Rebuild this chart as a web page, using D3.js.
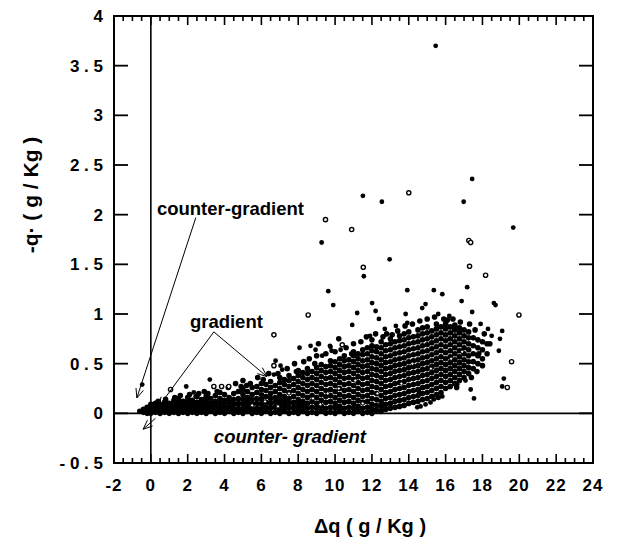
<!DOCTYPE html>
<html><head><meta charset="utf-8">
<script src="https://cdn.jsdelivr.net/npm/d3@7"></script>
<style>
body{margin:0;background:#fff}
svg{display:block}
text{font-family:"Liberation Sans",Arial,Helvetica,sans-serif;font-weight:bold;fill:#000}
</style>
</head><body>
<svg id="c" width="617" height="547"></svg>
<script>
// ---- data ----
const xTicks=[-2,0,2,4,6,8,10,12,14,16,18,20,22,24];
const yTicks=[-0.5,0,0.5,1,1.5,2,2.5,3,3.5,4];
const xTitle="\u0394q ( g / Kg )";
const yTitle="-q\u00b7 ( g / Kg )";

// dense cloud: [x, [y values]]
const cloud=[
[-0.6,[0.02]],[-0.4,[0.01,0.04]],[-0.2,[0.0,0.03,0.06]],
[0.0,[0.0,0.03,0.06,0.09]],[0.25,[0.01,0.04,0.07,0.1]],[0.5,[0.0,0.03,0.06,0.09]],[0.75,[0.01,0.04,0.08,0.11]],
[1.0,[0.0,0.03,0.06,0.1]],[1.25,[0.01,0.05,0.09,0.13]],[1.5,[0.0,0.03,0.07,0.11,0.15]],[1.75,[0.01,0.04,0.08,0.12]],
[2.0,[0.0,0.04,0.08,0.12,0.16]],[2.25,[0.01,0.05,0.09,0.13]],[2.5,[0.0,0.03,0.07,0.11,0.17]],[2.75,[0.01,0.05,0.09,0.14]],
[3.0,[0.0,0.04,0.08,0.12,0.17]],[3.25,[0.02,0.06,0.1,0.15]],[3.5,[0.0,0.04,0.08,0.12,0.18]],[3.75,[0.01,0.05,0.1,0.15,0.21]],
[4.0,[0.0,0.04,0.08,0.13,0.19]],[4.25,[0.02,0.06,0.11,0.16]],[4.5,[0.0,0.04,0.09,0.14,0.2]],[4.75,[0.01,0.05,0.1,0.15,0.22]],
[5.0,[0.0,0.04,0.09,0.14,0.19,0.24]],[5.25,[0.02,0.06,0.11,0.16,0.22]],[5.5,[0.0,0.04,0.09,0.14,0.19,0.26]],[5.75,[0.01,0.05,0.1,0.15,0.21,0.27]],
[6.0,[0.0,0.04,0.09,0.14,0.19,0.24,0.3]],[6.25,[0.02,0.06,0.11,0.17,0.23,0.29]],[6.5,[0.0,0.05,0.1,0.15,0.2,0.26,0.32]],[6.75,[0.01,0.06,0.11,0.16,0.22,0.28]],
[7.0,[0.0,0.04,0.09,0.14,0.19,0.25,0.31,0.36]],[7.25,[0.02,0.07,0.12,0.17,0.23,0.29,0.34]],[7.5,[0.0,0.05,0.1,0.15,0.21,0.27,0.33,0.38]],[7.75,[0.01,0.06,0.11,0.17,0.23,0.29,0.35]],
[8.0,[0.0,0.04,0.09,0.14,0.2,0.26,0.32,0.38,0.43]],[8.25,[0.02,0.07,0.12,0.18,0.24,0.3,0.36,0.41]],[8.5,[0.0,0.05,0.1,0.16,0.22,0.28,0.34,0.4,0.45]],[8.75,[0.01,0.06,0.12,0.18,0.24,0.3,0.36,0.42]],
[9.0,[0.0,0.05,0.1,0.16,0.22,0.28,0.34,0.4,0.46]],[9.25,[0.02,0.07,0.13,0.19,0.25,0.31,0.37,0.43,0.49]],[9.5,[0.0,0.05,0.11,0.17,0.23,0.29,0.35,0.41,0.47]],[9.75,[0.01,0.06,0.12,0.18,0.24,0.3,0.36,0.42,0.48,0.53]],
[10.0,[0.0,0.05,0.1,0.16,0.22,0.28,0.34,0.4,0.46,0.52]],[10.25,[0.02,0.07,0.13,0.19,0.25,0.31,0.37,0.43,0.49,0.55]],[10.5,[0.0,0.05,0.11,0.17,0.23,0.29,0.35,0.41,0.47,0.53,0.58]],[10.75,[0.01,0.06,0.12,0.18,0.24,0.3,0.36,0.42,0.48,0.54]],
[11.0,[0.0,0.05,0.1,0.16,0.22,0.28,0.34,0.4,0.46,0.52,0.58,0.62]],[11.25,[0.02,0.07,0.13,0.19,0.25,0.31,0.37,0.43,0.49,0.55,0.6]],[11.5,[0.0,0.05,0.11,0.17,0.23,0.29,0.35,0.41,0.47,0.53,0.59,0.64]],[11.75,[0.01,0.06,0.12,0.18,0.24,0.3,0.36,0.42,0.48,0.54,0.6,0.66]],
[12.0,[0.0,0.04,0.09,0.15,0.21,0.27,0.33,0.39,0.45,0.51,0.57,0.63,0.68]],[12.25,[0.03,0.08,0.14,0.2,0.26,0.32,0.38,0.44,0.5,0.56,0.62,0.67]],[12.5,[0.02,0.07,0.12,0.18,0.24,0.3,0.36,0.42,0.48,0.54,0.6,0.66,0.72]],[12.75,[0.04,0.09,0.15,0.21,0.27,0.33,0.39,0.45,0.51,0.57,0.63,0.69]],
[13.0,[0.05,0.1,0.16,0.22,0.28,0.34,0.4,0.46,0.52,0.58,0.64,0.7,0.75]],[13.25,[0.06,0.12,0.18,0.24,0.3,0.36,0.42,0.48,0.54,0.6,0.66,0.72]],[13.5,[0.07,0.13,0.19,0.25,0.31,0.37,0.43,0.49,0.55,0.61,0.67,0.73,0.78]],[13.75,[0.08,0.14,0.2,0.26,0.32,0.38,0.44,0.5,0.56,0.62,0.68,0.74,0.8]],
[14.0,[0.1,0.16,0.22,0.28,0.34,0.4,0.46,0.52,0.58,0.64,0.7,0.76,0.82]],[14.25,[0.11,0.17,0.23,0.29,0.35,0.41,0.47,0.53,0.59,0.65,0.71,0.77]],[14.5,[0.12,0.18,0.24,0.3,0.36,0.42,0.48,0.54,0.6,0.66,0.72,0.78,0.84]],[14.75,[0.14,0.2,0.26,0.32,0.38,0.44,0.5,0.56,0.62,0.68,0.74,0.8,0.86]],
[15.0,[0.15,0.21,0.27,0.33,0.39,0.45,0.51,0.57,0.63,0.69,0.75,0.81,0.87]],[15.25,[0.17,0.23,0.29,0.35,0.41,0.47,0.53,0.59,0.65,0.71,0.77,0.83]],[15.5,[0.19,0.25,0.31,0.37,0.43,0.49,0.55,0.61,0.67,0.73,0.79,0.85,0.9]],[15.75,[0.21,0.27,0.33,0.39,0.45,0.51,0.57,0.63,0.69,0.75,0.81,0.87]],
[16.0,[0.25,0.31,0.37,0.43,0.49,0.55,0.61,0.67,0.73,0.79,0.85,0.9]],[16.25,[0.27,0.33,0.39,0.45,0.51,0.57,0.63,0.69,0.75,0.81,0.87]],[16.5,[0.3,0.36,0.42,0.48,0.54,0.6,0.66,0.72,0.78,0.84,0.89]],[16.75,[0.33,0.39,0.45,0.51,0.57,0.63,0.69,0.75,0.81,0.86]],
[17.0,[0.36,0.42,0.48,0.54,0.6,0.66,0.72,0.78,0.84]],[17.25,[0.4,0.46,0.52,0.58,0.64,0.7,0.76,0.82]],[17.5,[0.45,0.52,0.6,0.68,0.76]],[17.75,[0.5,0.58,0.66,0.74]],
[18.0,[0.55,0.64,0.72]],[18.25,[0.6,0.7]]
];

// ragged fringe of points around the cloud edge [x, y]
const fringe=[
[0.4,0.12],[0.8,0.14],[1.3,0.16],[1.6,0.18],[2.1,0.19],[2.9,0.22],[3.6,0.22],[4.2,0.26],[4.6,0.3],[5.0,0.33],
[5.2,0.28],[5.4,0.3],[5.8,0.36],[6.1,0.34],[6.4,0.4],[7.4,0.45],[7.8,0.5],[7.9,0.42],[8.3,0.52],[8.6,0.55],
[9.0,0.58],[9.1,0.7],[9.5,0.6],[10.0,0.62],[10.2,0.75],[10.6,0.66],[11.0,0.7],[11.4,0.72],[11.7,0.77],[12.0,0.74],
[12.2,0.8],[12.8,0.8],[13.4,0.83],[13.8,0.88],[14.2,0.9],[14.6,0.93],[15.0,0.95],[15.4,0.97],[15.9,0.95],[16.4,0.95],
[16.8,0.92],[17.3,0.9],[17.6,0.84],[18.1,0.8],[18.4,0.7],[17.8,0.6],[18.0,0.48],[17.7,0.42],[17.4,0.36],[3.1,0.2],
[2.6,0.2],[4.9,0.27],[6.9,0.4],[8.9,0.5],[10.9,0.6],[12.6,0.77],[13.1,0.79],[16.1,0.94],[16.6,0.26],[15.6,0.16]
];
// scattered filled points [x, y]
const scatterFilled=[
[15.46,3.70],[17.44,2.36],[11.51,2.19],[12.54,2.13],[16.98,2.13],[9.27,1.72],[19.67,1.87],[12.96,1.55],
[11.56,1.38],[9.63,1.23],[13.92,1.24],[15.36,1.24],[17.17,1.27],[9.9,1.09],[12.01,1.11],[12.2,1.03],
[12.38,0.95],[11.2,1.01],[14.91,1.10],[14.73,1.06],[16.87,1.13],[17.44,1.02],[18.62,1.11],[18.71,1.09],
[13.83,1.0],[13.92,0.91],[10.93,0.89],[9.72,0.68],[19.07,0.83],[18.95,0.75],[18.89,0.63],[19.16,0.35],
[19.07,0.27],[17.54,0.15],[17.36,0.24],[17.08,0.33],[16.63,0.29],[15.82,0.17],[15.36,0.14],[15.18,0.11],
[14.91,0.09],[14.64,0.07],[14.46,0.06],[14.82,0.26],[14.55,0.22],[13.28,0.06],[8.07,0.66],[8.67,0.68],
[8.94,0.64],[9.75,0.67],[9.81,0.63],[6.77,0.53],[7.04,0.48],[7.13,0.44],[6.68,0.39],[3.2,0.34],
[1.92,0.27],[2.33,0.21],[2.43,0.17],[9.3,0.58],[10.75,0.54],[-0.47,0.29],[15.6,1.0],[16.2,0.98],
[15.82,1.20],[18.3,0.85],[18.5,0.78],[17.9,0.9],[12.7,0.85],[13.3,0.88],[11.9,0.78],[10.3,0.64]
];
// scattered open points [x, y]
const scatterOpen=[
[14.0,2.22],[9.48,1.95],[10.9,1.85],[17.26,1.74],[17.36,1.72],[11.53,1.47],[17.3,1.48],[18.17,1.39],
[8.54,0.99],[19.98,0.99],[10.39,0.69],[19.58,0.52],[19.35,0.26],[6.68,0.79],[6.68,0.48],
[1.07,0.24],[3.42,0.27],[3.84,0.27],[4.23,0.27]
];
// open circles inside the cloud (white specks)
const innerOpen=[
[5.5,0.08],[6.2,0.12],[7.5,0.2],[8.8,0.15],[9.6,0.2],[10.2,0.25],[11.5,0.1],[12.3,0.2],
[13.6,0.3],[15.2,0.45],[16.3,0.55],[9.2,0.09],[6.9,0.07],[11.1,0.33],[14.2,0.5],[16.9,0.62]
];

// ---- drawing ----
const svg=d3.select("#c");
const x=d3.scaleLinear().domain([-2,24]).range([114,593]);
const y=d3.scaleLinear().domain([-0.5,4]).range([463,16]);
const L=x(-2), R=x(24), B=y(-0.5), T=y(4);

const pts=[];
cloud.forEach(([cx,ys])=>ys.forEach(v=>pts.push([cx,v])));

// reference lines
svg.append("line").attr("x1",x(0)).attr("x2",x(0)).attr("y1",T).attr("y2",B)
  .attr("stroke","#000").attr("stroke-width",1.6);
svg.append("line").attr("x1",L).attr("x2",R).attr("y1",y(0)).attr("y2",y(0))
  .attr("stroke","#000").attr("stroke-width",1.6);

// dense cloud as one path of dots (each dot placed by the scales)
const cp=d3.path();
pts.concat(fringe).forEach(([a,b])=>{
  const cx=x(a), cy=y(b), r=2.8;
  cp.moveTo(cx+r,cy); cp.arc(cx,cy,r,0,2*Math.PI);
});
svg.append("path").attr("d",cp.toString()).attr("fill","#000");

// other points as circles
const gp=svg.append("g");
gp.selectAll("circle.i").data(innerOpen).join("circle").attr("class","i")
  .attr("cx",d=>x(d[0])).attr("cy",d=>y(d[1])).attr("r",1.6)
  .attr("fill","#fff").attr("stroke","#000").attr("stroke-width",1);
gp.selectAll("circle.f").data(scatterFilled).join("circle").attr("class","f")
  .attr("cx",d=>x(d[0])).attr("cy",d=>y(d[1])).attr("r",2.4)
  .attr("fill","#000");
gp.selectAll("circle.o").data(scatterOpen).join("circle").attr("class","o")
  .attr("cx",d=>x(d[0])).attr("cy",d=>y(d[1])).attr("r",2.1)
  .attr("fill","#fff").attr("stroke","#000").attr("stroke-width",1.4);

// tick labels
svg.append("g").selectAll("text").data(xTicks).join("text")
  .attr("x",d=>x(d)).attr("y",B+28).attr("text-anchor","middle")
  .attr("font-size",17).attr("letter-spacing",1).text(d=>String(d));
svg.append("g").selectAll("text").data(yTicks).join("text")
  .attr("x",L-11).attr("y",d=>y(d)+6).attr("text-anchor","end")
  .attr("font-size",17).text(d=>String(d).split("").join(" "));

// ticks positioned by the scales
const minor=d3.range(-2,24.001,0.5);
const gt=svg.append("g").attr("fill","#000");
gt.selectAll("rect.yl").data(yTicks).join("rect").attr("class","yl")
  .attr("x",L).attr("width",14).attr("y",d=>y(d)-0.9).attr("height",1.8);
gt.selectAll("rect.yr").data(yTicks).join("rect").attr("class","yr")
  .attr("x",R-14).attr("width",14).attr("y",d=>y(d)-0.9).attr("height",1.8);
gt.selectAll("rect.xb").data(minor).join("rect").attr("class","xb")
  .attr("x",d=>x(d)-0.8).attr("width",1.6)
  .attr("y",d=>B-((d%2===0)?9:5)).attr("height",d=>(d%2===0)?9:5);
gt.selectAll("rect.xt").data(minor).join("rect").attr("class","xt")
  .attr("x",d=>x(d)-0.8).attr("width",1.6)
  .attr("y",T).attr("height",d=>(d%2===0)?9:5);

// frame
svg.append("rect").attr("x",L).attr("y",T).attr("width",R-L).attr("height",B-T)
  .attr("fill","none").attr("stroke","#000").attr("stroke-width",2);

// titles
svg.append("text").attr("x",370).attr("y",533).attr("text-anchor","middle")
  .attr("font-size",20).text(xTitle);
svg.append("text").attr("transform","translate(38,195) rotate(-90)").attr("text-anchor","middle")
  .attr("font-size",21).text(yTitle);

// annotations (data coordinates)
function arrow(a,b){
  const x1=x(a[0]),y1=y(a[1]),x2=x(b[0]),y2=y(b[1]);
  const g=svg.append("g").attr("stroke","#000").attr("stroke-width",1);
  g.append("line").attr("x1",x1).attr("y1",y1).attr("x2",x2).attr("y2",y2);
  const ang=Math.atan2(y1-y2,x1-x2), hl=10, ha=0.4;
  [ang-ha,ang+ha].forEach(t=>{
    g.append("line").attr("x1",x2).attr("y1",y2)
      .attr("x2",x2+hl*Math.cos(t)).attr("y2",y2+hl*Math.sin(t));
  });
}
svg.append("text").attr("x",x(0.33)).attr("y",y(2.0)).attr("font-size",18.5).text("counter-gradient");
arrow([2.44,1.97],[-0.76,0.155]);
arrow([0.25,-0.05],[-0.42,-0.16]);
svg.append("text").attr("x",x(2.12)).attr("y",y(0.86)).attr("font-size",18.5).text("gradient");
arrow([3.42,0.82],[0.43,0.07]);
arrow([3.42,0.82],[6.3,0.37]);
svg.append("text").attr("x",x(3.42)).attr("y",y(-0.3)).attr("font-size",18.5)
  .attr("font-style","italic").text("counter- gradient");
</script>
</body></html>
